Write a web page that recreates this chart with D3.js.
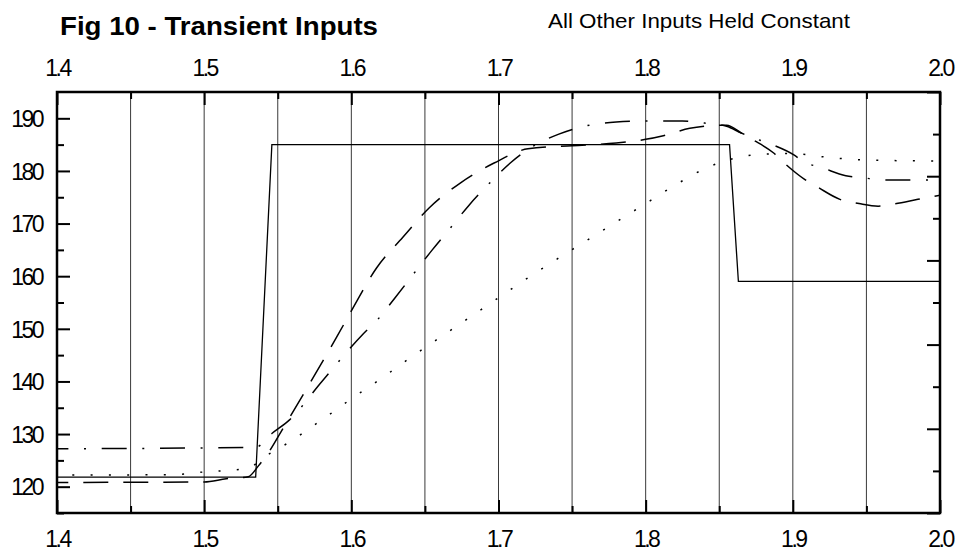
<!DOCTYPE html>
<html>
<head>
<meta charset="utf-8">
<script src="https://cdn.jsdelivr.net/npm/d3@7"></script>
<style>
  body { margin: 0; background: #fff; }
  svg { display: block; }
</style>
</head>
<body>
<div id="chart"></div>
<script>
// input step (solid)
const stepX = [1.4, 1.535, 1.546, 1.857, 1.863, 2.0];
const stepY = [121.8, 121.8, 185, 185, 159, 159];

// slow response (dotted)
const dotX = [1.4, 1.48, 1.5, 1.53, 1.54, 1.55, 1.56, 1.57, 1.58, 1.6, 1.62, 1.64, 1.66, 1.68, 1.70,
  1.72, 1.74, 1.76, 1.78, 1.80, 1.82, 1.84, 1.86, 1.88, 1.90, 1.92, 1.94, 1.96, 2.0];
const dotY = [122.2, 122.3, 122.8, 123.5, 125.5, 127.2, 128.8, 130.8, 132.7, 136.7, 140.5, 144.5, 148.3, 152.1, 155.9,
  159.7, 163.3, 166.8, 170.3, 173.8, 177.3, 180.4, 182.4, 183.2, 183.3, 182.7, 182.2, 182.0, 181.9];

// long dash response
const dashX = [1.4, 1.5, 1.515, 1.53, 1.537, 1.544, 1.553, 1.57, 1.59, 1.6, 1.617, 1.635, 1.653, 1.674, 1.697,
  1.72, 1.75, 1.78, 1.8, 1.812, 1.83, 1.845, 1.855, 1.865, 1.873, 1.887, 1.895, 1.908, 1.917, 1.932,
  1.945, 1.958, 1.968, 1.985, 2.0];
const dashY = [120.8, 120.9, 121.5, 121.9, 124.0, 126.6, 130.8, 138.8, 148.4, 153.4, 161.5, 167.4, 173.0, 177.7, 181.5,
  184.2, 184.8, 185.3, 186.0, 186.7, 188.1, 188.6, 188.7, 187.2, 185.9, 183.4, 181.3, 178.4, 176.9, 174.6,
  173.8, 173.3, 173.7, 174.6, 175.4];

// dash-dot response
const dashDotX = [1.4, 1.535, 1.546, 1.558, 1.58, 1.608, 1.618, 1.63, 1.643, 1.655, 1.668, 1.68, 1.694, 1.708,
  1.723, 1.741, 1.76, 1.78, 1.8, 1.825, 1.84, 1.855, 1.865, 1.873, 1.886, 1.901, 1.907, 1.92, 1.936,
  1.948, 1.96, 2.0];
const dashDotY = [127.2, 127.5, 130.1, 132.7, 140.0, 149.0, 151.8, 156.0, 160.7, 165.0, 169.4, 173.5, 177.7, 181.5,
  184.6, 187.0, 188.6, 189.3, 189.5, 189.5, 189.1, 188.5, 187.2, 186.3, 185.0, 183.0, 181.8, 180.6, 179.1,
  178.7, 178.3, 178.3];

const xMajor = [1.4, 1.5, 1.6, 1.7, 1.8, 1.9, 2.0];
const xMinor = [1.45, 1.55, 1.65, 1.75, 1.85, 1.95];
const xGrid = [1.45, 1.5, 1.55, 1.6, 1.65, 1.7, 1.75, 1.8, 1.85, 1.9, 1.95];
const yMajor = [120, 130, 140, 150, 160, 170, 180, 190];
const yMinor = [115, 125, 135, 145, 155, 165, 175, 185];
const rMajor = [0, 2, 4, 6, 8, 10];
const rMinor = [1, 3, 5, 7, 9];

const width = 957, height = 552;
const margin = { top: 92, right: 17, bottom: 39, left: 57 };
const iw = width - margin.left - margin.right;
const ih = height - margin.top - margin.bottom;

const x = d3.scaleLinear().domain([1.4, 2.0]).range([0, iw]);
const y = d3.scaleLinear().domain([115, 195]).range([ih, 0]);
const yR = d3.scaleLinear().domain([0, 10]).range([ih, 0]);

const svg = d3.select("#chart").append("svg")
  .attr("width", width)
  .attr("height", height)
  .attr("font-family", "'Liberation Sans', Arial, sans-serif");

svg.append("text")
  .attr("x", 60).attr("y", 35)
  .attr("font-size", 26).attr("font-weight", "bold")
  .attr("textLength", 318).attr("lengthAdjust", "spacingAndGlyphs")
  .text("Fig 10 - Transient Inputs");

svg.append("text")
  .attr("x", 548).attr("y", 28)
  .attr("font-size", 21)
  .attr("textLength", 302).attr("lengthAdjust", "spacingAndGlyphs")
  .text("All Other Inputs Held Constant");

const g = svg.append("g").attr("transform", `translate(${margin.left},${margin.top})`);

// vertical grid lines
g.append("g").selectAll("line")
  .data(xGrid)
  .join("line")
  .attr("x1", d => x(d)).attr("x2", d => x(d))
  .attr("y1", 0).attr("y2", ih)
  .attr("stroke", "#3a3a3a")
  .attr("stroke-width", 1);

const fmt = d3.format(".1f");

function styleAxis(sel) {
  sel.select(".domain").remove();
  sel.selectAll(".tick line").attr("stroke", "#000").attr("stroke-width", 2);
  sel.selectAll(".tick text")
    .attr("fill", "#000")
    .attr("font-size", 23)
    .attr("letter-spacing", "-2.5px");
}

g.append("g")
  .call(d3.axisTop(x).tickValues(xMajor).tickFormat(fmt).tickSize(-13).tickPadding(16))
  .call(styleAxis)
  .selectAll(".tick text").attr("dy", 0);

g.append("g")
  .call(d3.axisTop(x).tickValues(xMinor).tickFormat("").tickSize(-7))
  .call(styleAxis);

g.append("g")
  .attr("transform", `translate(0,${ih})`)
  .call(d3.axisBottom(x).tickValues(xMajor).tickFormat(fmt).tickSize(-13).tickPadding(34))
  .call(styleAxis)
  .selectAll(".tick text").attr("dy", 0);

g.append("g")
  .attr("transform", `translate(0,${ih})`)
  .call(d3.axisBottom(x).tickValues(xMinor).tickFormat("").tickSize(-7))
  .call(styleAxis);

g.append("g")
  .call(d3.axisLeft(y).tickValues(yMajor).tickFormat(d3.format("d")).tickSize(-13).tickPadding(15))
  .call(styleAxis)
  .selectAll(".tick text").attr("dy", "0.36em");

g.append("g")
  .call(d3.axisLeft(y).tickValues(yMinor).tickFormat("").tickSize(-7))
  .call(styleAxis);

g.append("g")
  .attr("transform", `translate(${iw},0)`)
  .call(d3.axisRight(yR).tickValues(rMajor).tickFormat("").tickSize(-13))
  .call(styleAxis);

g.append("g")
  .attr("transform", `translate(${iw},0)`)
  .call(d3.axisRight(yR).tickValues(rMinor).tickFormat("").tickSize(-7))
  .call(styleAxis);

// series
const series = [
  { xs: stepX, ys: stepY, dash: null, offset: 0, curve: d3.curveLinear },
  { xs: dotX, ys: dotY, dash: "2,16.3", offset: 3, curve: d3.curveMonotoneX },
  { xs: dashX, ys: dashY, dash: "25,15", offset: 13.7, curve: d3.curveMonotoneX },
  { xs: dashDotX, ys: dashDotY, dash: "25,15.6,2,15.7", offset: 13.6, curve: d3.curveMonotoneX }
];

g.append("clipPath").attr("id", "plot-clip")
  .append("rect").attr("width", iw).attr("height", ih);

const plot = g.append("g").attr("clip-path", "url(#plot-clip)");

series.forEach(s => {
  const pts = s.xs.map((v, i) => [v, s.ys[i]]);
  const line = d3.line()
    .x(d => x(d[0]))
    .y(d => y(d[1]))
    .curve(s.curve);
  plot.append("path")
    .attr("d", line(pts))
    .attr("fill", "none")
    .attr("stroke", "#000")
    .attr("stroke-width", s.dash ? 1.5 : 1.3)
    .attr("stroke-dasharray", s.dash)
    .attr("stroke-dashoffset", s.offset);
});

// frame
g.append("rect")
  .attr("width", iw).attr("height", ih)
  .attr("fill", "none")
  .attr("stroke", "#000")
  .attr("stroke-width", 2.5);
</script>
</body>
</html>
